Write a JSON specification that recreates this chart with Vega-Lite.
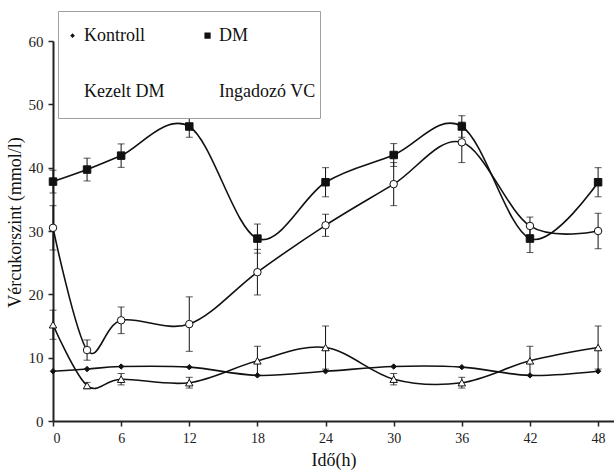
{
  "$schema": "https://vega.github.io/schema/vega-lite/v6.json",
  "width": 561,
  "height": 380,
  "autosize": {"type": "none"},
  "padding": {"left": 53, "top": 41, "right": 0, "bottom": 51},
  "background": "white",
  "config": {
    "view": {"stroke": null},
    "font": "Liberation Serif",
    "axis": {
      "grid": false,
      "domainColor": "#222",
      "domainWidth": 2,
      "tickColor": "#222",
      "tickWidth": 1.5,
      "tickSize": 5,
      "labelFont": "Liberation Serif",
      "labelFontSize": 14,
      "labelColor": "#222",
      "titleFont": "Liberation Serif",
      "titleFontSize": 18,
      "titleFontWeight": "normal",
      "titleColor": "#111"
    },
    "legend": {
      "orient": "none",
      "direction": "horizontal",
      "legendX": 5,
      "legendY": -30,
      "columns": 2,
      "columnPadding": 30,
      "rowPadding": 11,
      "padding": 4,
      "strokeColor": "#a0a0a0",
      "fillColor": "white",
      "symbolSize": 1521,
      "symbolStrokeColor": "#111",
      "symbolStrokeWidth": 1.3,
      "symbolOpacity": 1,
      "labelFont": "Liberation Serif",
      "labelFontSize": 18,
      "labelColor": "#111",
      "labelOffset": -19
    }
  },
  "data": {
    "values": [
      {"t": 0, "series": "Kontroll", "v": 7.85, "err": 0},
      {"t": 3, "series": "Kontroll", "v": 8.2, "err": 0},
      {"t": 6, "series": "Kontroll", "v": 8.6, "err": 0},
      {"t": 12, "series": "Kontroll", "v": 8.5, "err": 0},
      {"t": 18, "series": "Kontroll", "v": 7.2, "err": 0},
      {"t": 24, "series": "Kontroll", "v": 7.85, "err": 0},
      {"t": 30, "series": "Kontroll", "v": 8.6, "err": 0},
      {"t": 36, "series": "Kontroll", "v": 8.5, "err": 0},
      {"t": 42, "series": "Kontroll", "v": 7.2, "err": 0},
      {"t": 48, "series": "Kontroll", "v": 7.85, "err": 0},
      {"t": 0, "series": "DM", "v": 37.8, "err": 1.8},
      {"t": 3, "series": "DM", "v": 39.7, "err": 1.8},
      {"t": 6, "series": "DM", "v": 41.9, "err": 1.85},
      {"t": 12, "series": "DM", "v": 46.5, "err": 1.7},
      {"t": 18, "series": "DM", "v": 28.8, "err": 2.3},
      {"t": 24, "series": "DM", "v": 37.7, "err": 2.3},
      {"t": 30, "series": "DM", "v": 42.0, "err": 1.8},
      {"t": 36, "series": "DM", "v": 46.5, "err": 1.7},
      {"t": 42, "series": "DM", "v": 28.8, "err": 2.2},
      {"t": 48, "series": "DM", "v": 37.7, "err": 2.3},
      {"t": 0, "series": "Kezelt DM", "v": 15.2, "err": 2.3},
      {"t": 3, "series": "Kezelt DM", "v": 5.6, "err": 0.5},
      {"t": 6, "series": "Kezelt DM", "v": 6.6, "err": 0.9},
      {"t": 12, "series": "Kezelt DM", "v": 6.05, "err": 0.85},
      {"t": 18, "series": "Kezelt DM", "v": 9.5, "err": 2.3},
      {"t": 24, "series": "Kezelt DM", "v": 11.6, "err": 3.4},
      {"t": 30, "series": "Kezelt DM", "v": 6.6, "err": 0.9},
      {"t": 36, "series": "Kezelt DM", "v": 6.05, "err": 0.85},
      {"t": 42, "series": "Kezelt DM", "v": 9.5, "err": 2.3},
      {"t": 48, "series": "Kezelt DM", "v": 11.6, "err": 3.4},
      {"t": 0, "series": "Ingadozó VC", "v": 30.5, "err": 3.5},
      {"t": 3, "series": "Ingadozó VC", "v": 11.2, "err": 1.6},
      {"t": 6, "series": "Ingadozó VC", "v": 15.9, "err": 2.1},
      {"t": 12, "series": "Ingadozó VC", "v": 15.3, "err": 4.3},
      {"t": 18, "series": "Ingadozó VC", "v": 23.5, "err": 3.6},
      {"t": 24, "series": "Ingadozó VC", "v": 30.9, "err": 1.75},
      {"t": 30, "series": "Ingadozó VC", "v": 37.4, "err": 3.4},
      {"t": 36, "series": "Ingadozó VC", "v": 44.0, "err": 3.2},
      {"t": 42, "series": "Ingadozó VC", "v": 30.8, "err": 1.4},
      {"t": 48, "series": "Ingadozó VC", "v": 30.0, "err": 2.8}
    ]
  },
  "encoding": {
    "x": {
      "field": "t",
      "type": "quantitative",
      "scale": {"domain": [0, 49.4], "nice": false},
      "axis": {
        "title": "Idő(h)",
        "values": [0, 6, 12, 18, 24, 30, 36, 42, 48],
        "labelPadding": 5,
        "titlePadding": 6
      }
    },
    "y": {
      "field": "v",
      "type": "quantitative",
      "scale": {"domain": [0, 60], "nice": false},
      "axis": {
        "title": "Vércukorszint (mmol/l)",
        "titleY": 181,
        "labelFontSize": 15,
        "values": [0, 10, 20, 30, 40, 50, 60],
        "labelPadding": 5,
        "titlePadding": 4
      }
    }
  },
  "resolve": {
    "scale": {"shape": "independent", "fill": "independent"},
    "legend": {"shape": "independent", "fill": "independent"}
  },
  "layer": [
    {
      "transform": [{"filter": "datum.err > 0"}],
      "mark": {"type": "errorbar", "ticks": true, "size": 7, "thickness": 1, "color": "#111"},
      "encoding": {
        "yError": {"field": "err"}
      }
    },
    {
      "mark": {"type": "line", "interpolate": "cardinal", "color": "#111", "strokeWidth": 1.6},
      "encoding": {
        "detail": {"field": "series", "type": "nominal"}
      }
    },
    {
      "mark": {"type": "point", "opacity": 1, "size": 56, "stroke": "#111", "strokeWidth": 1},
      "encoding": {
        "shape": {
          "field": "series",
          "type": "nominal",
          "scale": {
            "domain": ["Kontroll", "DM", "Kezelt DM", "Ingadozó VC"],
            "range": ["M0,-0.72L0.72,0L0,0.72L-0.72,0Z", "square", "triangle-up", "circle"]
          },
          "legend": null
        },
        "fill": {
          "field": "series",
          "type": "nominal",
          "scale": {
            "domain": ["Kontroll", "DM", "Kezelt DM", "Ingadozó VC"],
            "range": ["#111", "#111", "white", "white"]
          },
          "legend": null
        }
      }
    },
    {
      "mark": {"type": "point", "opacity": 1, "size": 0, "stroke": "#111", "strokeWidth": 1.3},
      "encoding": {
        "shape": {
          "field": "series",
          "type": "nominal",
          "scale": {
            "domain": ["Kontroll", "DM", "Kezelt DM", "Ingadozó VC"],
            "range": [
              "M-1,-1M-1,1M-1,0L-0.03,0M-0.51,-0.12L-0.39,0L-0.51,0.12L-0.63,0Z",
              "M-1,-1M-1,1M-1,0L-0.03,0M-0.67,-0.16H-0.35V0.16H-0.67Z",
              "M-1,-1M-1,1M-1,0L-0.6,0M-0.42,0L-0.03,0M-0.51,-0.16L-0.34,0.14L-0.68,0.14Z",
              "M-1,-1M-1,1M-1,0L-0.67,0M-0.35,0L-0.03,0M-0.67,0A0.16,0.16,0,1,1,-0.35,0A0.16,0.16,0,1,1,-0.67,0Z"
            ]
          },
          "legend": {"title": null}
        },
        "fill": {
          "field": "series",
          "type": "nominal",
          "scale": {
            "domain": ["Kontroll", "DM", "Kezelt DM", "Ingadozó VC"],
            "range": ["#111", "#111", "white", "white"]
          },
          "legend": {"title": null}
        }
      }
    }
  ]
}
